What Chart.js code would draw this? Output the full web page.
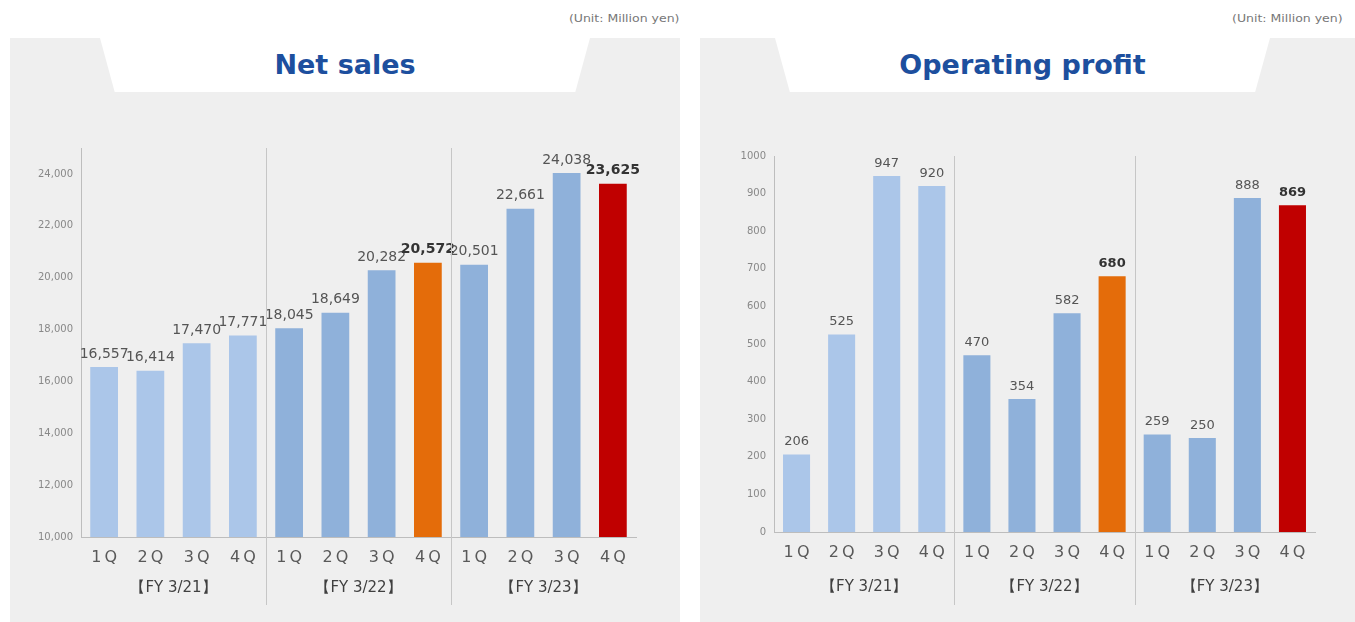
<!DOCTYPE html>
<html>
<head>
<meta charset="utf-8">
<script src="https://cdn.jsdelivr.net/npm/chart.js@4.4.1/dist/chart.umd.min.js"></script>
<style>
body{margin:0;background:#fff;width:1355px;height:622px;overflow:hidden;position:relative;font-family:"DejaVu Sans",Verdana,sans-serif}
.panel{position:absolute;top:38px;height:584px;background:#efefef;overflow:hidden}
.tab{position:absolute;top:0;height:54px;background:#fff;clip-path:polygon(0 0,100% 0,97% 100%,3% 100%)}
.tab h2{margin:0;font-size:27px;line-height:54px;color:#1d4f9e;text-align:center;font-weight:bold}
.unit{position:absolute;top:13px;font-size:10px;color:#777;white-space:nowrap;transform:scaleX(1.25)}
canvas{position:absolute}
</style>
</head>
<body>

<div class="unit" style="right:676px;transform-origin:right center">(Unit: Million yen)</div>
<div class="unit" style="left:1232px;transform-origin:left center">(Unit: Million yen)</div>

<div class="panel" style="left:10px;width:670px">
  <div class="tab" style="left:90px;width:490px"><h2>Net sales</h2></div>
</div>
<div class="panel" style="left:700px;width:655px">
  <div class="tab" style="left:75px;width:495px"><h2>Operating profit</h2></div>
</div>

<canvas id="salesChart" width="660" height="485" style="left:10px;top:130px"></canvas>
<canvas id="profitChart" width="655" height="485" style="left:700px;top:130px"></canvas>

<script>
const quarterLabels = ['1\u2009Q','2\u2009Q','3\u2009Q','4\u2009Q','1\u2009Q','2\u2009Q','3\u2009Q','4\u2009Q','1\u2009Q','2\u2009Q','3\u2009Q','4\u2009Q']
const fyLabels = ['【FY 3/21】','【FY 3/22】','【FY 3/23】']

const netSales = [16557,16414,17470,17771,18045,18649,20282,20572,20501,22661,24038,23625]
const operatingProfit = [206,525,947,920,470,354,582,680,259,250,888,869]

const salesTicks = [10000,12000,14000,16000,18000,20000,22000,24000]
const profitTicks = [0,100,200,300,400,500,600,700,800,900,1000]

const LIGHT = '#abc6e9'
const MID = '#8fb1da'
const ORANGE = '#e46c0a'
const RED = '#c00000'

const barColors = [LIGHT,LIGHT,LIGHT,LIGHT,MID,MID,MID,ORANGE,MID,MID,MID,RED]

const FONT = '"DejaVu Sans", Verdana, sans-serif'


// value text above every bar, bold on the highlighted 4Q bars
const valueLabels = {
  id: 'valueLabels',
  afterDatasetsDraw(chart, args, opts) {
    let ctx = chart.ctx
    let ds = chart.data.datasets[0]
    chart.getDatasetMeta(0).data.forEach((bar, i) => {
      let bold = barColors[i] == ORANGE || barColors[i] == RED
      ctx.save()
      ctx.font = (bold ? 'bold ' : '') + opts.size + 'px ' + FONT
      ctx.fillStyle = bold ? '#333' : '#555'
      ctx.textAlign = 'center'
      ctx.textBaseline = 'bottom'
      ctx.fillText(opts.format(ds.data[i]), bar.x, bar.y - 6)
      ctx.restore()
    })
  }
}

// thin vertical lines between fiscal years
const groupLines = {
  id: 'groupLines',
  afterDraw(chart) {
    let x = chart.scales.x
    let ctx = chart.ctx
    ctx.save()
    ctx.strokeStyle = '#c6c6c6'
    ctx.lineWidth = 1
    for (let i = 4; i < x.ticks.length; i += 4) {
      let px = Math.round((x.getPixelForValue(i - 1) + x.getPixelForValue(i)) / 2) + 0.5
      ctx.beginPath()
      ctx.moveTo(px, chart.chartArea.top)
      ctx.lineTo(px, chart.height - 10)
      ctx.stroke()
    }
    ctx.restore()
  }
}


function makeChart(id, values, cfg) {

  new Chart(document.getElementById(id), {
    type: 'bar',
    data: {
      labels: quarterLabels,
      datasets: [{
        data: values,
        backgroundColor: barColors,
        barPercentage: 0.6,
        categoryPercentage: 1
      }]
    },
    options: {
      responsive: false,
      animation: false,
      layout: { padding: cfg.padding },
      plugins: {
        legend: { display: false },
        tooltip: { enabled: false },
        valueLabels: { size: cfg.labelSize, format: cfg.format }
      },
      scales: {
        x: {
          weight: 1,
          grid: { display: false, drawTicks: false },
          border: { color: '#bdbdbd' },
          ticks: { autoSkip: false, maxRotation: 0, color: '#595959', padding: 11, font: { family: FONT, size: 16 } },
          afterFit: s => { s.height = cfg.xHeight }
        },
        fy: {
          type: 'category',
          position: 'bottom',
          weight: 2,
          labels: fyLabels,
          offset: true,
          grid: { display: false, drawTicks: false },
          border: { display: false },
          ticks: { color: '#404040', padding: cfg.fyPad, font: { family: FONT, size: 15 } },
          afterFit: s => { s.height = cfg.fyHeight }
        },
        y: {
          min: cfg.min,
          max: cfg.max,
          grid: { display: false, drawTicks: false },
          border: { color: '#bdbdbd' },
          ticks: {
            autoSkip: false,
            padding: 8,
            color: '#888',
            font: { family: FONT, size: 10 },
            callback: cfg.tick
          },
          afterBuildTicks: s => { s.ticks = cfg.ticks.map(v => ({ value: v })) },
          afterFit: s => { s.width = cfg.yWidth }
        }
      }
    },
    plugins: [valueLabels, groupLines]
  })

}


makeChart('salesChart', netSales, {
  min: 10000, max: 25000, ticks: salesTicks,
  tick: v => v.toLocaleString('en-US'),
  format: v => v.toLocaleString('en-US'),
  labelSize: 14,
  yWidth: 71,
  xHeight: 36, fyHeight: 42, fyPad: 6,
  padding: { top: 18, right: 34, bottom: 0, left: 0 }
})

makeChart('profitChart', operatingProfit, {
  min: 0, max: 1000, ticks: profitTicks,
  tick: v => String(v),
  format: v => String(v),
  labelSize: 13,
  yWidth: 74,
  xHeight: 38, fyHeight: 45, fyPad: 8,
  padding: { top: 26, right: 40, bottom: 0, left: 0 }
})
</script>
</body>
</html>
